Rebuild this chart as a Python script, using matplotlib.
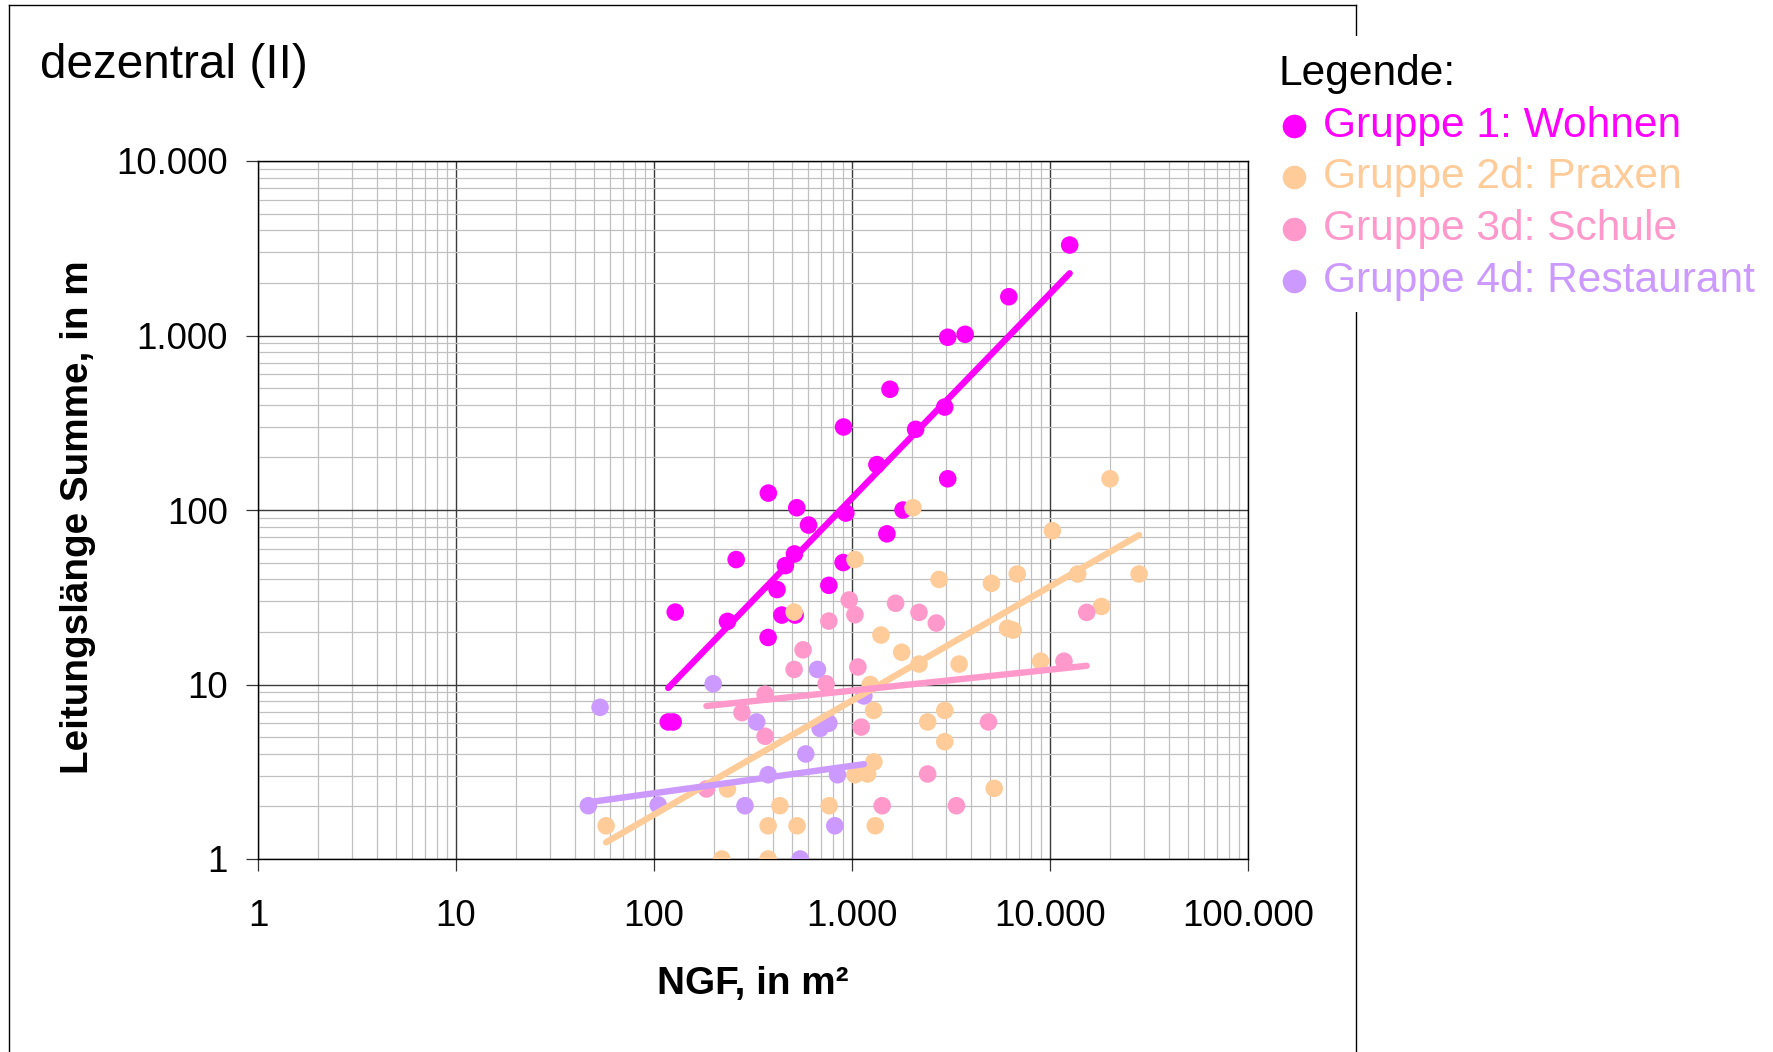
import numpy as np
import matplotlib
matplotlib.use("Agg")
import matplotlib.pyplot as plt
from matplotlib.ticker import LogLocator, FuncFormatter, NullFormatter
from matplotlib.lines import Line2D
from matplotlib.patches import Rectangle

plt.rcParams["font.family"] = ["Liberation Sans", "DejaVu Sans"]

# --- data: NGF (m²) vs. total pipe length (m) per building group ---
wohnen_ngf = [12570, 6194, 3043, 3726, 1555, 2940, 2096, 906, 1336, 3043,
              1810, 931, 526, 378, 603, 1501, 260, 512, 461, 902,
              418, 764, 128, 235, 442, 516, 377, 118, 125]
wohnen_len = [3300, 1668, 977, 1016, 492, 389, 290, 299, 182, 151,
              100, 96, 103, 125, 82, 73, 52, 56, 48, 50,
              35, 37, 26, 23, 25, 25, 18.6, 6.1, 6.1]

praxen_ngf = [2033, 20100, 10280, 28180, 13800, 6830, 5060, 2753, 18190, 6100,
              6500, 1400, 1782, 2180, 3475, 8960, 1035, 510, 1236, 1285,
              2940, 2410, 2940, 1290, 1199, 1035, 5226, 235, 432, 767,
              57.3, 377, 528, 1310, 220, 377]
praxen_len = [103, 151, 76, 43, 43, 43, 38, 40, 28, 21,
              20.5, 19.2, 15.3, 13.1, 13.1, 13.6, 52, 26, 10, 7.1,
              7.1, 6.1, 4.7, 3.6, 3.07, 3.04, 2.54, 2.52, 2.02, 2.02,
              1.55, 1.55, 1.55, 1.55, 1.0, 1.0]

schule_ngf = [968, 1035, 764, 1660, 2180, 2666, 15320, 11760, 566, 510,
              1071, 740, 364, 278, 364, 1113, 4890, 2410, 184, 1420, 3367]
schule_len = [30.5, 25.1, 23.1, 29.2, 25.9, 22.5, 25.9, 13.6, 15.8, 12.2,
              12.6, 10.1, 8.8, 6.9, 5.05, 5.7, 6.1, 3.07, 2.52, 2.02, 2.02]

restaurant_ngf = [53.4, 199, 669, 330, 690, 764, 1148, 584, 377, 845,
                  46.6, 105, 288, 819, 547]
restaurant_len = [7.4, 10.1, 12.2, 6.1, 5.6, 6.0, 8.6, 4.0, 3.04, 3.04,
                  2.02, 2.04, 2.02, 1.55, 1.0]

# power trend lines: log10(L) = intercept + slope * log10(NGF)
trend_slope = [1.172, 0.654, 0.120, 0.157]
trend_intercept = [-1.448, -1.054, 0.605, 0.063]

group_labels = ["Gruppe 1: Wohnen", "Gruppe 2d: Praxen",
                "Gruppe 3d: Schule", "Gruppe 4d: Restaurant"]
group_colors = ["#FF00FF", "#FFCC99", "#FF99CC", "#CC99FF"]

groups = [(wohnen_ngf, wohnen_len), (praxen_ngf, praxen_len),
          (schule_ngf, schule_len), (restaurant_ngf, restaurant_len)]

# --- figure ---
W, H = 1773, 1052
fig = plt.figure(figsize=(W / 100, H / 100), dpi=100)
fig.patch.set_facecolor("white")

# outer chart frame (open at the bottom edge of the page)
frame_kw = dict(transform=fig.transFigure, color="black", lw=1.0)
fig.add_artist(Line2D([9 / W, 9 / W], [-0.1, 1 - 4.5 / H], **frame_kw))
fig.add_artist(Line2D([9 / W, 1356 / W], [1 - 4.5 / H, 1 - 4.5 / H], **frame_kw))
fig.add_artist(Line2D([1356 / W, 1356 / W], [-0.1, 1 - 4.5 / H], **frame_kw))

ax = fig.add_axes([258 / W, 1 - 859 / H, 990 / W, 698 / H])
ax.set_xscale("log")
ax.set_yscale("log")
ax.set_xlim(1, 100000)
ax.set_ylim(1, 10000)

fmt = FuncFormatter(lambda v, p: f"{int(round(v)):,}".replace(",", "."))
for axis in (ax.xaxis, ax.yaxis):
    axis.set_major_locator(LogLocator(base=10, numticks=20))
    axis.set_minor_locator(LogLocator(base=10, subs=np.arange(2, 10), numticks=100))
    axis.set_major_formatter(fmt)
    axis.set_minor_formatter(NullFormatter())

ax.set_axisbelow(True)
ax.grid(which="minor", color="#c0c0c0", lw=0.9)
ax.grid(which="major", color="#3a3a3a", lw=1.0)
ax.tick_params(which="major", direction="out", length=8.6, width=0.9,
               color="#333333", labelsize=26.5)
ax.tick_params(axis="x", which="major", pad=20)
ax.tick_params(axis="y", which="major", pad=13)
ax.tick_params(which="minor", length=0)
for s in ax.spines.values():
    s.set_color("black")
    s.set_linewidth(1.0)

# scatter points
for (xs, ys), c in zip(groups, group_colors):
    ax.scatter(xs, ys, s=160, color=c, edgecolors="none", zorder=3)

# power trend lines over each group's NGF range
for (xs, ys), c, b, a in zip(groups, group_colors, trend_slope, trend_intercept):
    lx = np.log10(xs)
    xr = np.linspace(lx.min(), lx.max(), 50)
    ax.plot(10 ** xr, 10 ** (a + b * xr), color=c, lw=4.6,
            solid_capstyle="round", zorder=4)

# titles and axis labels
fig.text(39.6 / W, 1 - 65 / H, "dezentral (II)", fontsize=34.4,
         ha="left", va="center")
fig.text(753 / W, 1 - 984.5 / H, "NGF, in m²", fontsize=27.8,
         fontweight="bold", ha="center", va="center")
fig.text(78.5 / W, 1 - 517 / H, "Leitungslänge Summe, in m", fontsize=27.8,
         fontweight="bold", ha="center", va="center", rotation=90)

# legend block (covers the frame on the right)
fig.add_artist(Rectangle((1265 / W, 1 - 312 / H), (W - 1265) / W,
                         (312 - 36) / H, transform=fig.transFigure,
                         facecolor="white", edgecolor="none", zorder=5))
fig.text(1278 / W, 1 - 74.5 / H, "Legende:", fontsize=30.6,
         ha="left", va="center", zorder=6)
for i, (lab, c) in enumerate(zip(group_labels, group_colors)):
    yy = 1 - (125.5 + i * 51.7) / H
    fig.add_artist(Line2D([1293.5 / W], [yy], marker="o", markersize=17,
                          color=c, markeredgewidth=0, linestyle="none",
                          transform=fig.transFigure, zorder=6))
    fig.text(1323 / W, yy, lab, fontsize=30.6, color=c,
             ha="left", va="center", zorder=6)

fig.savefig("out.png", dpi=100, facecolor="white")
